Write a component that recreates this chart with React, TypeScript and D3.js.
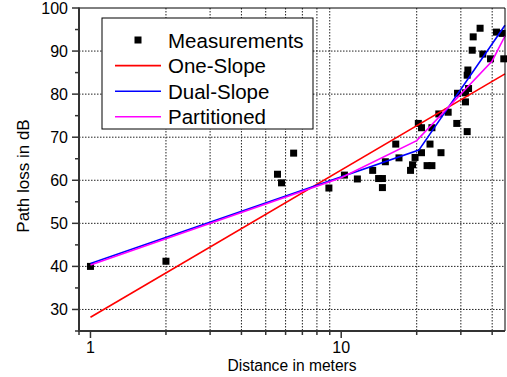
import React from "react";
import * as d3 from "d3";

// Measurements (distance in m, path loss in dB)
const measDistance = [1.0, 2.0, 5.57, 5.78, 6.46, 8.93, 10.3, 11.6, 13.35, 14.1, 14.6, 14.6, 15.0, 16.5, 17.0, 18.9, 19.25, 19.7, 20.3, 20.9, 20.9, 22.0, 22.6, 23.0, 23.0, 24.5, 25.0, 26.7, 28.9, 29.1, 31.3, 31.3, 31.8, 32.2, 31.8, 32.0, 33.3, 33.6, 35.8, 36.7, 39.4, 41.6, 43.8, 44.5];
const measPathLoss = [40.0, 41.2, 61.4, 59.4, 66.3, 58.2, 61.2, 60.3, 62.3, 60.4, 60.4, 58.3, 64.3, 68.4, 65.2, 62.3, 63.6, 65.3, 73.2, 72.2, 66.4, 63.4, 68.4, 72.2, 63.4, 75.4, 66.4, 75.8, 73.2, 80.2, 80.3, 78.2, 71.3, 81.3, 84.4, 85.6, 90.2, 93.3, 95.3, 89.3, 88.2, 94.4, 94.1, 88.2];

// Model lines
const oneSlopeDistance = [1, 45];
const oneSlopePathLoss = [28.2, 84.7];
const dualSlopeDistance = [1, 20.4, 45];
const dualSlopePathLoss = [40.7, 67.0, 96.0];
const partitionedDistance = [1, 10, 20, 40, 45];
const partitionedPathLoss = [40.3, 60.6, 69.2, 87.7, 93.5];

// Axes
const xDomain = [0.9, 45];
const yDomain = [25, 100];
const yTickLabels = [30, 40, 50, 60, 70, 80, 90, 100];
const yMinorTicks = [25, 35, 45, 55, 65, 75, 85, 95];
const xMajorTicks = [1, 10];
const xMinorTicks = [0.9, 2, 3, 4, 5, 6, 7, 8, 9, 20, 30, 40];
const xGrid = [2, 3, 4, 5, 6, 7, 8, 9, 20, 30, 40];
const yGrid = [30, 40, 50, 60, 70, 80, 90];

const legendItems = [
  { label: "Measurements", type: "marker", color: "#000" },
  { label: "One-Slope", type: "line", color: "#ff0000" },
  { label: "Dual-Slope", type: "line", color: "#0000ff" },
  { label: "Partitioned", type: "line", color: "#ff00ff" },
];

const W = 507;
const H = 377;
const L = 79, R = 505, T = 8, B = 331;
const FONT = "'Liberation Sans', Arial, Helvetica, sans-serif";

export default function App() {
  const x = d3.scaleLog().domain(xDomain).range([L, R]);
  const y = d3.scaleLinear().domain(yDomain).range([B, T]);
  const line = d3.line<[number, number]>().x((d) => x(d[0])).y((d) => y(d[1]));
  const mk = (ds: number[], ps: number[]) => ds.map((d, i) => [d, ps[i]] as [number, number]);
  const series = [
    { pts: mk(oneSlopeDistance, oneSlopePathLoss), color: "#ff0000" },
    { pts: mk(dualSlopeDistance, dualSlopePathLoss), color: "#0000ff" },
    { pts: mk(partitionedDistance, partitionedPathLoss), color: "#ff00ff" },
  ];
  const ms = 7;
  const legX = 102, legY = 18, legW = 211, legH = 111;
  const rowY0 = 40, rowStep = 25.6;

  return (
    <svg width={W} height={H} style={{ position: "absolute", left: 0, top: 0, background: "#fff" }} fontFamily={FONT}>
      <rect x={0} y={0} width={W} height={H} fill="#fff" />
      {/* grid */}
      <g stroke="#222" strokeWidth={1} strokeDasharray="1.5,1.5">
        {xGrid.map((v) => (
          <line key={"gx" + v} x1={x(v)} x2={x(v)} y1={T} y2={B} />
        ))}
        {yGrid.map((v) => (
          <line key={"gy" + v} x1={L} x2={R} y1={y(v)} y2={y(v)} />
        ))}
      </g>
      {/* markers */}
      <g fill="#000">
        {measDistance.map((d, i) => (
          <rect key={"m" + i} x={x(d) - ms / 2} y={y(measPathLoss[i]) - ms / 2} width={ms} height={ms} />
        ))}
      </g>
      {/* lines */}
      {series.map((s, i) => (
        <path key={"s" + i} d={line(s.pts) || ""} fill="none" stroke={s.color} strokeWidth={1.6} />
      ))}
      {/* frame */}
      <line x1={L} x2={R} y1={T} y2={T} stroke="#000" strokeWidth={1} />
      <line x1={R} x2={R} y1={T} y2={B} stroke="#000" strokeWidth={1} />
      <line x1={L} x2={L} y1={T - 0.5} y2={B + 1} stroke="#333" strokeWidth={2} />
      <line x1={L - 1} x2={R} y1={B} y2={B} stroke="#333" strokeWidth={2} />
      {/* ticks */}
      <g stroke="#333" strokeWidth={1.5}>
        {yTickLabels.map((v) => (
          <line key={"yt" + v} x1={L - 7} x2={L} y1={y(v)} y2={y(v)} />
        ))}
        {yMinorTicks.map((v) => (
          <line key={"ym" + v} x1={L - 4} x2={L} y1={y(v)} y2={y(v)} />
        ))}
        {xMajorTicks.map((v) => (
          <line key={"xt" + v} x1={x(v)} x2={x(v)} y1={B} y2={B + 7} />
        ))}
        {xMinorTicks.map((v) => (
          <line key={"xm" + v} x1={x(v)} x2={x(v)} y1={B} y2={B + 4} />
        ))}
      </g>
      <g fontSize={16} fill="#000">
        {yTickLabels.map((v) => (
          <text key={"yl" + v} x={L - 11} y={y(v)} textAnchor="end" dominantBaseline="central">
            {v}
          </text>
        ))}
        {xMajorTicks.map((v) => (
          <text key={"xl" + v} x={x(v)} y={353} textAnchor="middle">
            {v}
          </text>
        ))}
      </g>
      <text x={(L + R) / 2} y={371} textAnchor="middle" fontSize={15.6} fill="#000">
        Distance in meters
      </text>
      <text transform={`translate(29,176) rotate(-90)`} textAnchor="middle" fontSize={17} fill="#000">
        Path loss in dB
      </text>
      {/* legend */}
      <rect x={legX} y={legY} width={legW} height={legH} fill="#fff" stroke="#000" strokeWidth={1} />
      {legendItems.map((it, i) => {
        const cy = rowY0 + i * rowStep;
        return (
          <g key={"lg" + i}>
            {it.type === "marker" ? (
              <rect x={138 - ms / 2} y={cy - ms / 2} width={ms} height={ms} fill="#000" />
            ) : (
              <line x1={115} x2={161} y1={cy} y2={cy} stroke={it.color} strokeWidth={1.6} />
            )}
            <text x={168} y={cy} dominantBaseline="central" fontSize={20.5} fill="#000">
              {it.label}
            </text>
          </g>
        );
      })}
    </svg>
  );
}
